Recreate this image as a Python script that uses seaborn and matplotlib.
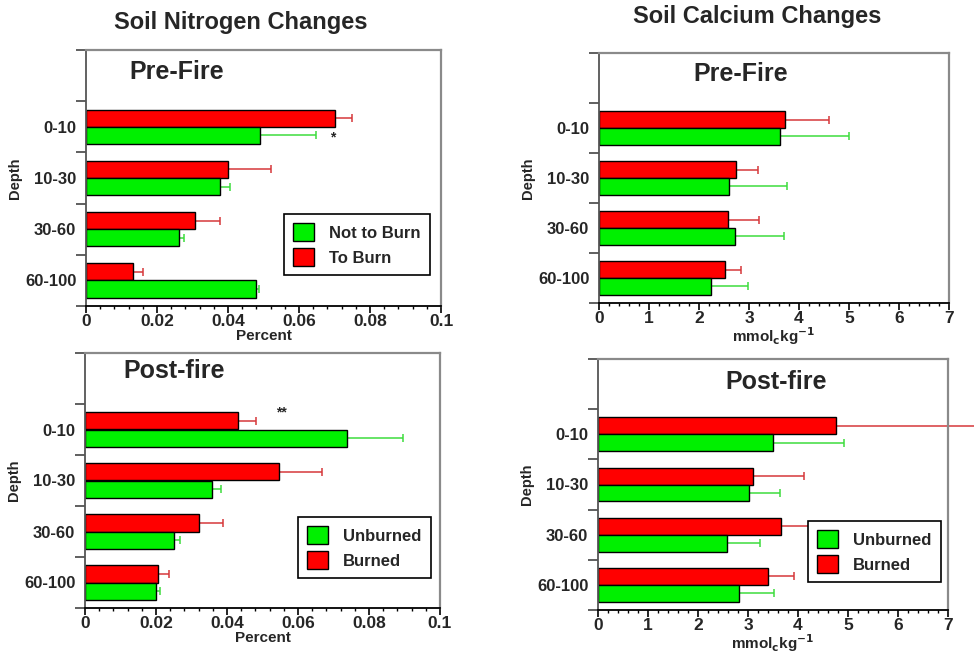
import numpy as np
import pandas as pd
import matplotlib
matplotlib.use("Agg")
import matplotlib.pyplot as plt
from matplotlib.patches import Patch
from matplotlib.ticker import MultipleLocator, FixedLocator, NullFormatter
import seaborn as sns

# ---------------- data ----------------
depths = ["0-10", "10-30", "30-60", "60-100"]

# Soil nitrogen (Percent)
n_pre_burn = [0.0700, 0.0400, 0.0308, 0.0131]
n_pre_burn_err = [0.0049, 0.0120, 0.0070, 0.0030]
n_pre_noburn = [0.0489, 0.0378, 0.0261, 0.0479]
n_pre_noburn_err = [0.0158, 0.0027, 0.0016, 0.0008]

n_post_burned = [0.0432, 0.0546, 0.0320, 0.0207]
n_post_burned_err = [0.0049, 0.0122, 0.0070, 0.0030]
n_post_unburned = [0.0737, 0.0359, 0.0252, 0.0201]
n_post_unburned_err = [0.0158, 0.0024, 0.0016, 0.0009]

# Soil calcium (mmolc kg-1)
ca_pre_burn = [3.71, 2.74, 2.57, 2.52]
ca_pre_burn_err = [0.89, 0.43, 0.62, 0.32]
ca_pre_noburn = [3.62, 2.59, 2.72, 2.23]
ca_pre_noburn_err = [1.38, 1.16, 0.98, 0.75]

ca_post_burned = [4.76, 3.09, 3.66, 3.39]
ca_post_burned_err = [3.00, 1.03, 0.75, 0.53]
ca_post_unburned = [3.49, 3.01, 2.57, 2.81]
ca_post_unburned_err = [1.42, 0.63, 0.66, 0.70]

pre_labels = ["To Burn", "Not to Burn"]
post_labels = ["Burned", "Unburned"]
n_ticklabels = ["0", "0.02", "0.04", "0.06", "0.08", "0.1"]

RED = "#ff0000"
GREEN = "#00f000"
RED_ERR = "#d6383a"
GREEN_ERR = "#3ddc3d"

sns.set_style("white")
plt.rcParams["font.family"] = ["Liberation Sans", "DejaVu Sans"]
plt.rcParams["font.weight"] = "bold"

fig = plt.figure(figsize=(9.74, 6.58), dpi=100)

positions = {
    "TL": [86 / 974, 1 - 306 / 658, 355 / 974, 256 / 658],
    "BL": [85 / 974, 1 - 608 / 658, 355 / 974, 255 / 658],
    "TR": [599 / 974, 1 - 303 / 658, 350 / 974, 250 / 658],
    "BR": [598 / 974, 1 - 610 / 658, 350 / 974, 251 / 658],
}


def panel(key, burn, burn_err, noburn, noburn_err, labels, xmax, major, minor,
          xlabel, title, title_xy, legend_bbox=None, stars=None):
    ax = fig.add_axes(positions[key])
    red_lab, green_lab = labels
    df = pd.DataFrame({
        "Depth": depths * 2,
        "Value": list(burn) + list(noburn),
        "Group": [red_lab] * 4 + [green_lab] * 4,
    })
    sns.barplot(data=df, y="Depth", x="Value", hue="Group", orient="h",
                order=depths, hue_order=[red_lab, green_lab],
                palette={red_lab: RED, green_lab: GREEN}, saturation=1,
                width=0.67, edgecolor="black", linewidth=1.0, errorbar=None,
                legend=False, ax=ax, zorder=2)

    # error bars (one-sided, to the right) at the bar centres
    bars = [p for p in ax.patches if p.get_width() > 0]
    nb = len(depths)
    groups = [(bars[:nb], burn_err, RED_ERR), (bars[nb:2 * nb], noburn_err, GREEN_ERR)]
    for patches, errs, col in groups:
        vals = np.array([p.get_width() for p in patches])
        ys = np.array([p.get_y() + p.get_height() / 2 for p in patches])
        eb = ax.errorbar(vals, ys, xerr=[np.zeros(len(vals)), np.array(errs)],
                         fmt="none", ecolor=col, elinewidth=1.1, capsize=2.6,
                         capthick=1.1, zorder=1.5, clip_on=False)
        for cl in eb[1]:
            if np.allclose(cl.get_xdata(), vals):
                cl.set_visible(False)
            cl.set_clip_on(False)
        for c in eb[2]:
            c.set_clip_on(False)

    ax.set_xlim(0, xmax)
    ax.set_ylim(3.5, -1.5)

    # y: ticks at slot boundaries, labels at slot centres
    ax.yaxis.set_major_locator(FixedLocator([-1.5, -0.5, 0.5, 1.5, 2.5, 3.5]))
    ax.yaxis.set_major_formatter(NullFormatter())
    ax.yaxis.set_minor_locator(FixedLocator([0, 1, 2, 3]))
    ax.set_yticklabels(depths, minor=True)
    ax.tick_params(axis="y", which="major", direction="out", length=7,
                   width=1.2, color="#444444", left=True)
    ax.tick_params(axis="y", which="minor", length=0, pad=7, labelsize=12)
    for t in ax.get_yticklabels(minor=True):
        t.set_fontweight("bold")

    ax.xaxis.set_major_locator(MultipleLocator(major))
    ax.xaxis.set_minor_locator(MultipleLocator(minor))
    ax.tick_params(axis="x", which="major", direction="out", length=5,
                   width=1.2, color="black", bottom=True, labelsize=12.5, pad=0.5)
    ax.tick_params(axis="x", which="minor", direction="out", length=2.5,
                   width=1.0, color="black", bottom=True)
    for t in ax.get_xticklabels():
        t.set_fontweight("bold")
    if xmax == 0.1:
        ax.set_xticks([0, 0.02, 0.04, 0.06, 0.08, 0.1])
        ax.set_xticklabels(n_ticklabels, fontweight="bold", fontsize=12.5)

    ax.set_xlabel(xlabel, fontsize=11, fontweight="bold", labelpad=0)
    ax.set_ylabel("Depth", fontsize=10.5, fontweight="bold", labelpad=2)

    for side in ["top", "right"]:
        ax.spines[side].set_color("#8a8a8a")
        ax.spines[side].set_linewidth(1.6)
    ax.spines["left"].set_color("#555555")
    ax.spines["left"].set_linewidth(1.3)
    ax.spines["bottom"].set_color("black")
    ax.spines["bottom"].set_linewidth(1.3)

    ax.text(title_xy[0], title_xy[1], title, transform=ax.transAxes,
            ha="center", va="center", fontsize=18, fontweight="bold")

    if legend_bbox is not None:
        handles = [Patch(facecolor=GREEN, edgecolor="black", linewidth=1.0, label=green_lab),
                   Patch(facecolor=RED, edgecolor="black", linewidth=1.0, label=red_lab)]
        leg = ax.legend(handles=handles, loc="upper left", bbox_to_anchor=legend_bbox,
                        bbox_transform=fig.transFigure, frameon=True, fancybox=False,
                        edgecolor="black", framealpha=1, borderpad=0.55,
                        handlelength=1.25, handleheight=1.25, handletextpad=0.9,
                        labelspacing=0.45, borderaxespad=0,
                        prop={"weight": "bold", "size": 12})
        leg.get_frame().set_linewidth(1.2)
        leg.set_zorder(5)

    if stars:
        for sx, sy, s in stars:
            ax.text(sx, sy, s, ha="center", va="center", fontsize=10,
                    fontweight="bold", zorder=6)
    return ax


panel("TL", n_pre_burn, n_pre_burn_err, n_pre_noburn, n_pre_noburn_err,
      pre_labels, 0.1, 0.02, 0.004, "Percent", "Pre-Fire",
      ((177 - 86) / 355, 1 - (72 - 50) / 256),
      legend_bbox=(284 / 974, 1 - 214 / 658),
      stars=[(0.0695, 0.21, "*")])

panel("BL", n_post_burned, n_post_burned_err, n_post_unburned, n_post_unburned_err,
      post_labels, 0.1, 0.02, 0.004, "Percent", "Post-fire",
      ((174 - 85) / 355, 1 - (371 - 353) / 255),
      legend_bbox=(298 / 974, 1 - 517 / 658),
      stars=[(0.0554, -0.34, "**")])

ca_label = r"mmol$_\mathbf{c}$kg$^\mathbf{-1}$"

panel("TR", ca_pre_burn, ca_pre_burn_err, ca_pre_noburn, ca_pre_noburn_err,
      pre_labels, 7, 1, 0.2, ca_label, "Pre-Fire",
      ((741 - 599) / 350, 1 - (74 - 53) / 250))

panel("BR", ca_post_burned, ca_post_burned_err, ca_post_unburned, ca_post_unburned_err,
      post_labels, 7, 1, 0.2, ca_label, "Post-fire",
      ((776 - 598) / 350, 1 - (382 - 359) / 250),
      legend_bbox=(808 / 974, 1 - 521 / 658))

fig.text(241 / 974, 1 - 22 / 658, "Soil Nitrogen Changes", ha="center", va="center",
         fontsize=17, fontweight="bold",
         family=["Liberation Sans Narrow", "Liberation Sans", "DejaVu Sans"])
fig.text(757 / 974, 1 - 17 / 658, "Soil Calcium Changes", ha="center", va="center",
         fontsize=17, fontweight="bold",
         family=["Liberation Sans Narrow", "Liberation Sans", "DejaVu Sans"])

fig.savefig("out.png", dpi=100)
